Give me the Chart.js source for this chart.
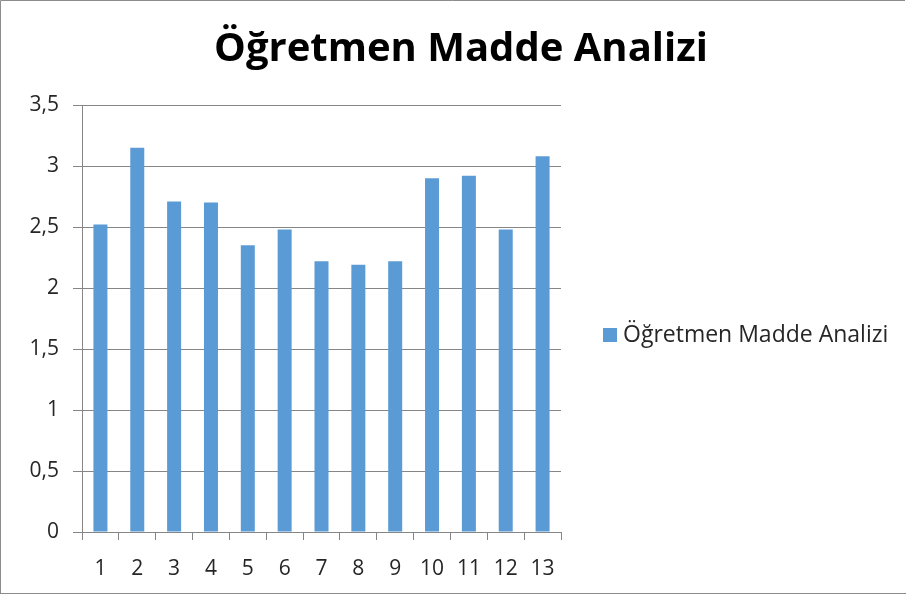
<!DOCTYPE html>
<html>
<head>
<meta charset="utf-8">
<script src="https://cdn.jsdelivr.net/npm/chart.js@4"></script>
<style>
  html, body { margin: 0; padding: 0; background: #fff; }
  #wrap { width: 906px; height: 597px; position: relative; }
</style>
</head>
<body>
<div id="wrap"><canvas id="chart"></canvas></div>
<script>
const titleText = 'Öğretmen Madde Analizi';
const seriesName = 'Öğretmen Madde Analizi';
const categories = ['1','2','3','4','5','6','7','8','9','10','11','12','13'];
const values = [2.52, 3.15, 2.71, 2.70, 2.35, 2.48, 2.22, 2.19, 2.22, 2.90, 2.92, 2.48, 3.08];
const yMin = 0, yMax = 3.5, yStep = 0.5;

const barColor = '#5B9BD5';
const lineColor = '#868686';
const textColor = '#262626';

// title, legend and outer frame drawn by hand so they sit where Excel puts them
const extras = {
    id: 'extras',
    afterDraw(chart) {
        const ctx = chart.ctx;
        ctx.save();
        ctx.strokeStyle = '#8c8c8c';
        ctx.lineWidth = 1;
        ctx.beginPath();
        ctx.moveTo(0.5, 593.5); ctx.lineTo(0.5, 0.5); ctx.lineTo(905, 0.5);
        ctx.moveTo(0, 593.5); ctx.lineTo(906, 593.5);
        ctx.stroke();

        ctx.fillStyle = '#000';
        ctx.font = 'bold 40px "Open Sans"';
        ctx.textAlign = 'center';
        ctx.textBaseline = 'alphabetic';
        ctx.fillText(titleText, 461, 61);

        const ds = chart.data.datasets[0];
        ctx.fillStyle = ds.backgroundColor;
        ctx.fillRect(603, 328, 14, 14);
        ctx.fillStyle = textColor;
        ctx.font = '23px "Open Sans"';
        ctx.textBaseline = 'middle';
        ctx.textAlign = 'left';
        ctx.fillText(ds.label, 623, 335);
        ctx.restore();
    }
};

new Chart(document.getElementById('chart'), {
    type: 'bar',
    data: {
        labels: categories,
        datasets: [{ label: seriesName, data: values, backgroundColor: barColor, borderWidth: 0,
                     barPercentage: 0.76, categoryPercentage: 0.5 }]
    },
    options: {
        responsive: true, maintainAspectRatio: false, animation: false,
        layout: { padding: { left: 16, right: 345, top: 105, bottom: 0 } },
        plugins: {
            legend: { display: false },
            tooltip: { enabled: false },
            title: { display: false }
        },
        scales: {
            x: {
                grid: { display: true, drawOnChartArea: false, drawTicks: true, tickLength: 8, color: lineColor, offset: true },
                border: { display: true, color: lineColor },
                ticks: { color: textColor, font: { family: 'Open Sans', size: 21 }, padding: 16, maxRotation: 0 },
                afterFit: (s) => { s.height = 65; }
            },
            y: {
                min: yMin, max: yMax,
                grid: { color: lineColor, tickLength: 9 },
                border: { display: true, color: lineColor },
                ticks: { stepSize: yStep, color: textColor, font: { family: 'Open Sans', size: 21 }, padding: 14,
                         callback: (v) => String(v).replace('.', ',') },
                afterFit: (s) => { s.width = 66; }
            }
        }
    },
    plugins: [extras]
});
</script>
</body>
</html>
